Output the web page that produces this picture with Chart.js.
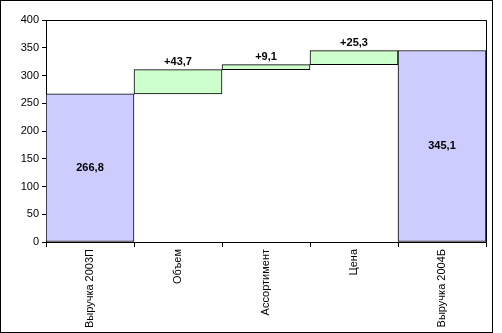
<!DOCTYPE html>
<html>
<head>
<meta charset="utf-8">
<script src="https://cdn.jsdelivr.net/npm/chart.js@4.4.1/dist/chart.umd.min.js"></script>
<style>
  body { margin: 0; background: #fff; }
  #box { position: absolute; left: 0; top: 0; width: 491px; height: 331px; border: 1px solid #000; }
  canvas { display: block; }
</style>
</head>
<body>
<div id="box"><canvas id="bridgeChart" width="491" height="331"></canvas></div>
<script>
var categories = ['Выручка 2003П', 'Объем', 'Ассортимент', 'Цена', 'Выручка 2004Б'];
var values = [266.8, 43.7, 9.1, 25.3, 345.1];
var isTotal = [true, false, false, false, true];
var yTicks = [0, 50, 100, 150, 200, 250, 300, 350, 400];

// floating ranges: totals start at zero, factors stack on the running sum
var ranges = [];
var running = 0;
for (var i = 0; i < values.length; i++) {
  if (isTotal[i]) {
    ranges.push([0, values[i]]);
    running = values[i];
  } else {
    ranges.push([running, running + values[i]]);
    running += values[i];
  }
}

function fmt(v) {
  return v.toFixed(1).replace('.', ',');
}

var frame = {
  id: 'frame',
  afterDraw: function(chart) {
    var a = chart.chartArea;
    var ctx = chart.ctx;
    ctx.save();
    ctx.strokeStyle = '#000';
    ctx.lineWidth = 1;
    ctx.beginPath();
    ctx.moveTo(a.left, a.top + 0.5);
    ctx.lineTo(a.right + 0.5, a.top + 0.5);
    ctx.lineTo(a.right + 0.5, a.bottom);
    ctx.stroke();
    ctx.restore();
  }
};

var barLabels = {
  id: 'barLabels',
  afterDatasetsDraw: function(chart) {
    var ctx = chart.ctx;
    var meta = chart.getDatasetMeta(0);
    ctx.save();
    ctx.font = 'bold 11px "Liberation Sans", Arial, sans-serif';
    ctx.fillStyle = '#000';
    ctx.textAlign = 'center';
    meta.data.forEach(function(bar, i) {
      if (isTotal[i]) {
        ctx.textBaseline = 'middle';
        ctx.fillText(fmt(values[i]), bar.x, (bar.y + bar.base) / 2);
      } else {
        ctx.textBaseline = 'bottom';
        ctx.fillText('+' + fmt(values[i]), bar.x, Math.min(bar.y, bar.base) - 2);
      }
    });
    ctx.restore();
  }
};

var ctx = document.getElementById('bridgeChart').getContext('2d');
var bridgeChart = new Chart(ctx, {
  type: 'bar',
  data: {
    labels: categories,
    datasets: [{
      data: ranges,
      backgroundColor: isTotal.map(function(t) { return t ? '#ccccff' : '#ccffcc'; }),
      borderColor: '#000',
      borderWidth: 1,
      borderSkipped: false,
      barPercentage: 1,
      categoryPercentage: 1
    }]
  },
  options: {
    responsive: false,
    animation: false,
    layout: { padding: { top: 19, right: 6, left: 0, bottom: 0 } },
    plugins: {
      legend: { display: false },
      tooltip: { enabled: false }
    },
    scales: {
      x: {
        afterFit: function(scale) { scale.height = 90; },
        grid: { display: true, drawOnChartArea: false, drawTicks: true, tickLength: 5, color: '#000', offset: true },
        border: { display: true, color: '#000', width: 1 },
        ticks: {
          color: '#000',
          font: { family: '"Liberation Sans", Arial, sans-serif', size: 11 },
          minRotation: 90,
          maxRotation: 90,
          autoSkip: false,
          padding: 2
        }
      },
      y: {
        min: 0,
        max: 400,
        afterFit: function(scale) { scale.width = 45; },
        afterBuildTicks: function(scale) {
          scale.ticks = yTicks.map(function(v) { return { value: v }; });
        },
        grid: { display: true, drawOnChartArea: false, drawTicks: true, tickLength: 4, color: '#000' },
        border: { display: true, color: '#000', width: 1 },
        ticks: {
          color: '#000',
          font: { family: '"Liberation Sans", Arial, sans-serif', size: 11 },
          padding: 3
        }
      }
    }
  },
  plugins: [frame, barLabels]
});
</script>
</body>
</html>
